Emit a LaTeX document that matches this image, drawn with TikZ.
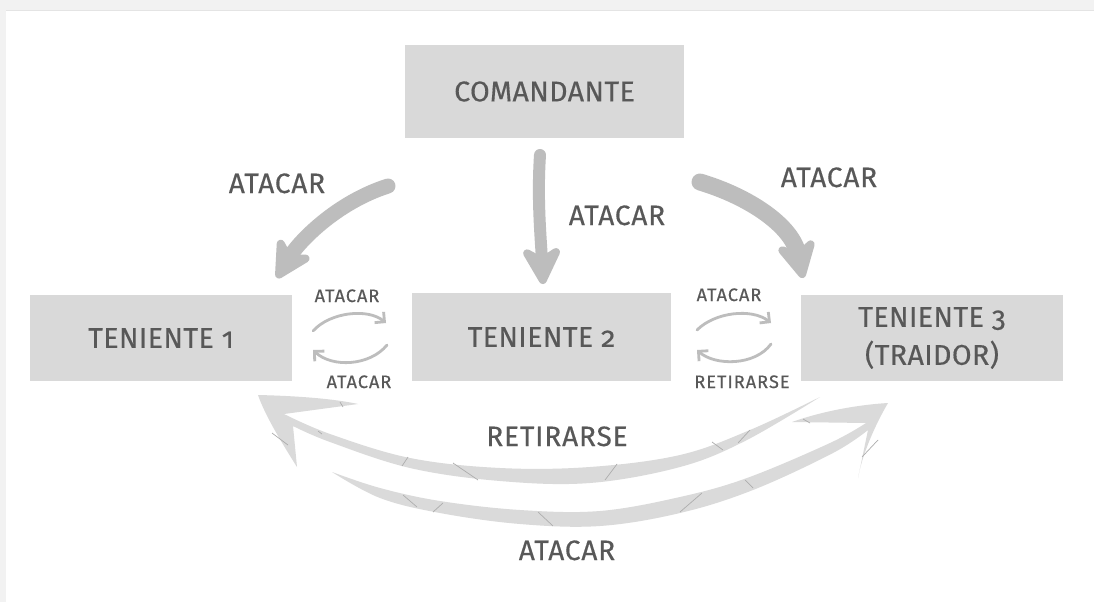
\documentclass[tikz,border=0pt]{standalone}
\usepackage{fontspec}
\setmainfont{Fira Sans}[Numbers=OldStyle]
\newfontfamily\boxfont{Fira Sans}[Numbers=OldStyle, LetterSpace=1.5, FakeBold=0.4]
\newfontfamily\labelfont{Fira Sans}[Numbers=OldStyle, LetterSpace=3, FakeBold=0.4]
\newfontfamily\tinyfont{Fira Sans}[Numbers=OldStyle, LetterSpace=6, FakeBold=0.5]
\usetikzlibrary{arrows.meta}
\definecolor{boxgray}{HTML}{D9D9D9}
\definecolor{inkgray}{HTML}{585858}
\definecolor{arrowgray}{HTML}{BDBDBD}
\definecolor{bandgray}{HTML}{DADADA}
\definecolor{hatchgray}{HTML}{ADADAD}
\definecolor{framegray}{HTML}{F2F2F2}
\definecolor{frameline}{HTML}{E4E4E4}

\begin{document}
\begin{tikzpicture}[x=1pt,y=-1pt,
  box/.style={fill=boxgray, inner sep=0pt, text=inkgray,
    font=\boxfont\fontsize{28.5}{38}\selectfont, align=center},
  biglabel/.style={text=inkgray, font=\labelfont\fontsize{28}{34}\selectfont,
    anchor=base, inner sep=0pt},
  smalllabel/.style={text=inkgray, font=\tinyfont\fontsize{18}{22}\selectfont,
    anchor=base, inner sep=0pt},
  brush/.style={draw=arrowgray, line cap=round,
    -{Stealth[length=46pt,width=48pt,inset=14pt,round]}},
  swaparc/.style={draw=arrowgray, line width=2.8pt, line cap=round,
    -{Straight Barb[length=7pt,width=14pt]}},
  band/.style={fill=bandgray},
  hatch/.style={draw=hatchgray, line width=0.7pt}
]
% page and light frame
\path[use as bounding box, fill=white] (0,0) rectangle (1094,602);
\fill[framegray] (0,0) rectangle (1094,10);
\fill[frameline] (0,10) rectangle (1094,11.5);
\fill[framegray] (0,0) rectangle (6,602);

% boxes
\node[box, minimum width=279pt, minimum height=93pt] (cmd) at (544.5,91.5) {COMANDANTE};
\node[box, minimum width=262pt, minimum height=86pt] (t1) at (161,338) {TENIENTE 1};
\node[box, minimum width=259pt, minimum height=88pt] (t2) at (541.5,337) {TENIENTE 2};
\node[box, minimum width=262pt, minimum height=86pt] (t3) at (932,338) {TENIENTE 3\\(TRAIDOR)};

% orders from the commander
\coordinate (c1) at (388,186);
\coordinate (c2) at (540,155);
\coordinate (c3) at (700,182);
\coordinate (e1) at (277,278);
\coordinate (e2) at (543,284);
\coordinate (e3) at (803,278);
\draw[brush, line width=15pt] (c1) .. controls (335,203) and (298,243) .. (e1);
\draw[brush, line width=12pt] (c2) .. controls (537,200) and (541,240) .. (e2);
\draw[brush, line width=17pt] (c3) .. controls (750,197) and (792,226) .. (e3);
\node[biglabel] (l1) at (277,193) {ATACAR};
\node[biglabel] (l2) at (617,225) {ATACAR};
\node[biglabel] (l3) at (829,187) {ATACAR};

% exchanges between neighbouring lieutenants
\coordinate (p1) at (313,331);
\coordinate (p2) at (386,323);
\coordinate (p3) at (387,345);
\coordinate (p4) at (313,350);
\draw[swaparc] (p1) .. controls (330,312) and (368,308) .. (p2);
\draw[swaparc] (p3) .. controls (370,366) and (332,368) .. (p4);
\node[smalllabel] (s1) at (347,302) {ATACAR};
\node[smalllabel] (s2) at (359,388) {ATACAR};

\coordinate (q1) at (697,330);
\coordinate (q2) at (771,323);
\coordinate (q3) at (771,344);
\coordinate (q4) at (697,350);
\draw[swaparc] (q1) .. controls (715,312) and (752,308) .. (q2);
\draw[swaparc] (q3) .. controls (755,366) and (715,366) .. (q4);
\node[smalllabel] (s3) at (729,301) {ATACAR};
\node[smalllabel] (s4) at (742,388) {RETIRARSE};

% long exchange between lieutenant 3 and lieutenant 1
\fill[band] (258,395) .. controls (300,396) and (335,399) .. (358,404)
  -- (284,414)
  -- plot[smooth, tension=0.6] coordinates {(284,414) (330,434) (410,458) (500,468) (590,467) (680,455) (750,430) (820,397)}
  -- plot[smooth, tension=0.6] coordinates {(820,397) (745,441) (680,467) (590,483) (500,481) (410,468) (330,442) (293,426)}
  -- (297,467)
  .. controls (280,440) and (265,415) .. (258,395) -- cycle;

\fill[band] (332,472)
  -- plot[smooth, tension=0.6] coordinates {(332,472) (380,488) (440,501) (520,510) (600,511) (680,497) (747,478) (830,443) (866,423)}
  -- (792,422)
  .. controls (820,412) and (855,405) .. (888,403)
  .. controls (875,425) and (862,455) .. (858,478)
  -- (868,430)
  -- plot[smooth, tension=0.6] coordinates {(868,430) (833,453) (753,490) (680,513) (600,526) (520,524) (440,513) (380,498) (332,472)}
  -- cycle;

% brush texture marks
\draw[hatch] (272,433) -- (288,445);
\draw[hatch] (340,402) -- (343,407);
\draw[hatch] (318,431) -- (322,434);
\draw[hatch] (402,466) -- (408,457);
\draw[hatch] (453,463) -- (478,480);
\draw[hatch] (605,480) -- (617,464);
\draw[hatch] (712,442) -- (723,450);
\draw[hatch] (738,443) -- (750,430);
\draw[hatch] (803,419) -- (810,423);
\draw[hatch] (403,495) -- (417,507);
\draw[hatch] (433,512) -- (443,503);
\draw[hatch] (538,512) -- (553,526);
\draw[hatch] (680,512) -- (702,493);
\draw[hatch] (745,480) -- (753,488);
\draw[hatch] (862,457) -- (878,440);

\node[biglabel] (r1) at (557,446) {RETIRARSE};
\node[biglabel] (r2) at (567,560) {ATACAR};
\end{tikzpicture}
\end{document}
